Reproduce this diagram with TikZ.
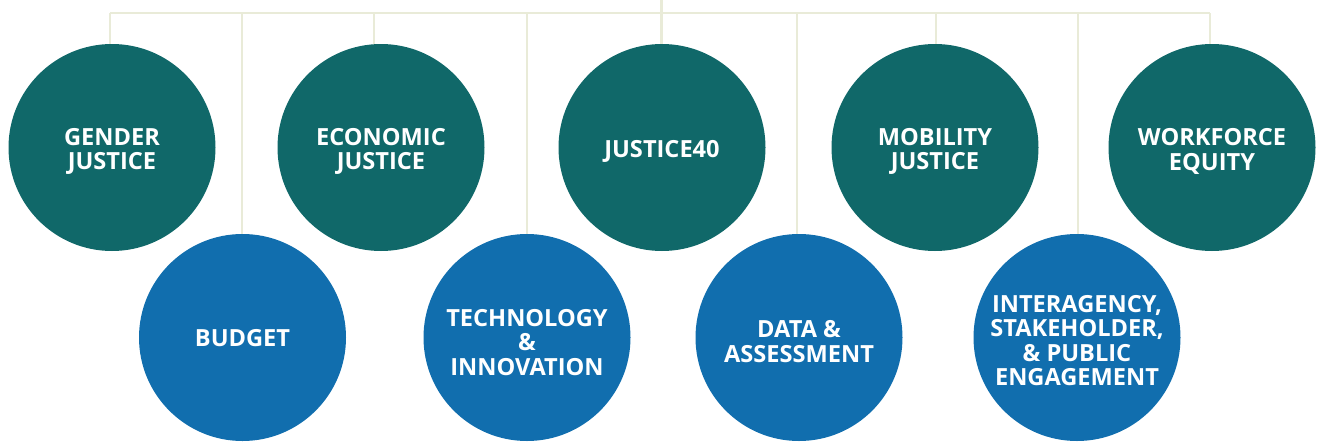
\documentclass[tikz,border=0pt]{standalone}
\usepackage{fontspec}
\setmainfont{Open Sans}
\definecolor{tealc}{HTML}{106869}
\definecolor{bluec}{HTML}{116EAE}
\definecolor{linec}{HTML}{E9EBD8}
\begin{document}
\begin{tikzpicture}[x=1pt,y=-1pt,
  circ/.style={circle,minimum size=207pt,inner sep=0pt,fill=#1},
  lbl/.style={text=white,align=center,inner sep=0pt,
    font=\fontsize{23.6}{24.5}\selectfont\bfseries},
  conn/.style={draw=linec,line width=2.2pt}]
\useasboundingbox (0,0) rectangle (1323,445);
\coordinate (bl) at (110,13);
\coordinate (br) at (1210,13);
\coordinate (top) at (661.5,0);
\coordinate (hub) at (661.5,13);
\draw[conn] (bl) -- (br);
\draw[conn] (top) -- (hub);
\foreach \n/\x in {g1/110,b1/242,g2/374,b2/527,g3/661.5,b3/797,g4/936,b4/1078,g5/1210}{
  \coordinate (t\n) at (\x,13);
}
\node[circ=tealc] (g1) at (112,147.5) {};
\node[circ=tealc] (g2) at (381,147.5) {};
\node[circ=tealc] (g3) at (662,147.5) {};
\node[circ=tealc] (g4) at (935,147.5) {};
\node[circ=tealc] (g5) at (1212,147.5) {};
\node[circ=bluec] (b1) at (242.5,337.5) {};
\node[circ=bluec] (b2) at (527,337.5) {};
\node[circ=bluec] (b3) at (799,337.5) {};
\node[circ=bluec] (b4) at (1077,337.5) {};
\foreach \n in {g1,b1,g2,b2,g3,b3,g4,b4,g5}{
  \draw[conn] (t\n) -- (t\n |- \n.north);
}
\node[lbl] (lg1) at ([yshift=-4pt]g1) {GENDER\\JUSTICE};
\node[lbl] (lg2) at ([yshift=-4pt]g2) {ECONOMIC\\JUSTICE};
\node[lbl] (lg3) at ([yshift=-4pt]g3) {JUSTICE40};
\node[lbl] (lg4) at ([yshift=-4pt]g4) {MOBILITY\\JUSTICE};
\node[lbl] (lg5) at ([yshift=-4pt]g5) {WORKFORCE\\EQUITY};
\node[lbl] (lb1) at ([yshift=-1pt]b1) {BUDGET};
\node[lbl] (lb2) at ([yshift=-5pt]b2) {TECHNOLOGY\\\&\\INNOVATION};
\node[lbl] (lb3) at ([yshift=-4pt]b3) {DATA \&\\ASSESSMENT};
\node[lbl] (lb4) at ([yshift=-3pt]b4) {INTERAGENCY,\\STAKEHOLDER,\\\& PUBLIC\\ENGAGEMENT};
\end{tikzpicture}
\end{document}
